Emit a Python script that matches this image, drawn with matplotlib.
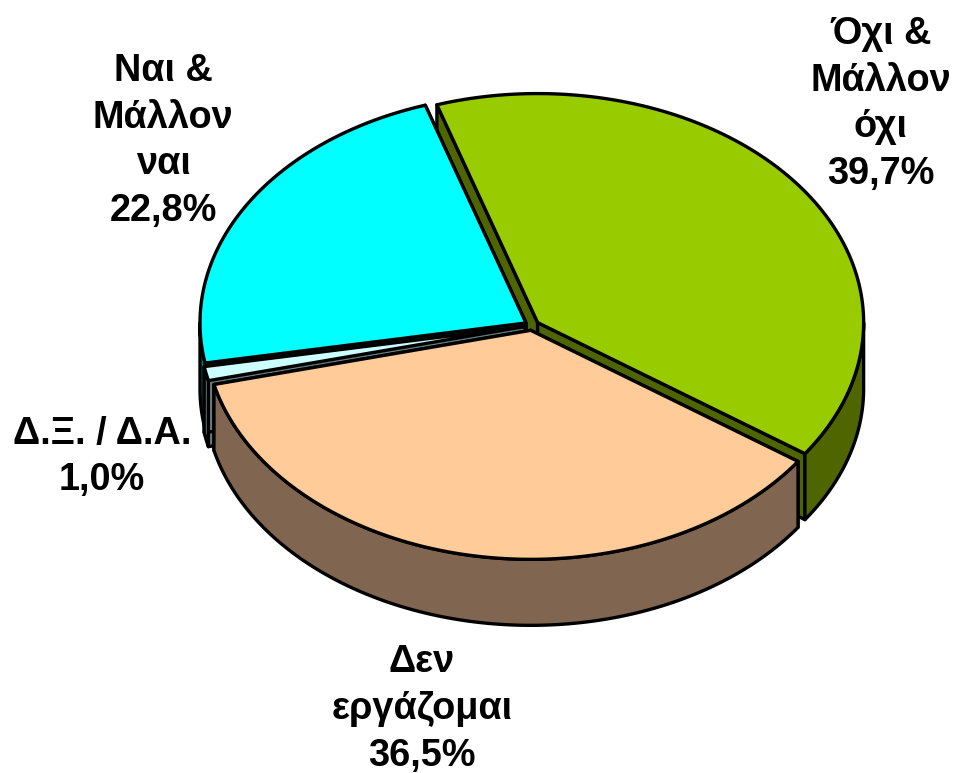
import numpy as np
import matplotlib
matplotlib.use("Agg")
import matplotlib.pyplot as plt
from matplotlib.patches import Polygon

plt.rcParams['font.family'] = ['Liberation Sans', 'DejaVu Sans']

categories = ["Όχι &\nΜάλλον\nόχι", "Δεν\nεργάζομαι", "Δ.Ξ. / Δ.Α.", "Ναι &\nΜάλλον\nναι"]
values = [39.7, 36.5, 1.0, 22.8]
value_labels = ["39,7%", "36,5%", "1,0%", "22,8%"]
top_colors = ["#99CC00", "#FFCC99", "#CCFFFF", "#00FFFF"]
wall_colors = ["#4F6600", "#806650", "#668080", "#008080"]
label_pos = [(881, 104), (422, 709), (102, 457), (163, 141)]
draw_order = [0, 3, 2, 1]

W, H = 956, 773
CX, CY, RX, RY = 532, 325.5, 326, 229
DEPTH, EXPLODE, START = 66, 7, -18.0
LW = 2.4

fig = plt.figure(figsize=(W / 100, H / 100), dpi=100)
ax = fig.add_axes([0, 0, 1, 1])
ax.set_xlim(0, W)
ax.set_ylim(H, 0)
ax.axis("off")

total = sum(values)
edges = START + np.concatenate([[0], np.cumsum(values)]) / total * 360


def pt(cx, cy, a):
    a = np.radians(a)
    return cx + RX * np.sin(a), cy - RY * np.cos(a)


def poly(xs, ys, color, z):
    ax.add_patch(Polygon(np.column_stack([xs, ys]), closed=True, facecolor=color,
                         edgecolor="black", linewidth=LW, joinstyle="round", zorder=z))


z = 1
for i in draw_order:
    a0, a1 = edges[i], edges[i + 1]
    mid = np.radians((a0 + a1) / 2)
    cx = CX + EXPLODE * np.sin(mid)
    cy = CY - EXPLODE * np.cos(mid) * RY / RX
    # radial cut faces
    for a in (a0, a1):
        x, y = pt(cx, cy, a)
        poly([cx, x, x, cx], [cy, y, y + DEPTH, cy + DEPTH], wall_colors[i], z)
        z += 1
    # outer rim, front half only
    lo, hi = max(a0, 90), min(a1, 270)
    if hi > lo:
        t = np.linspace(lo, hi, 200)
        x, y = pt(cx, cy, t)
        poly(np.r_[x, x[::-1]], np.r_[y, y[::-1] + DEPTH], wall_colors[i], z)
        z += 1
    # top face
    t = np.linspace(a0, a1, 300)
    x, y = pt(cx, cy, t)
    poly(np.r_[cx, x], np.r_[cy, y], top_colors[i], z)
    z += 1

for lab, vl, (lx, ly) in zip(categories, value_labels, label_pos):
    ax.text(lx, ly, f"{lab}\n{vl}", ha="center", va="center", fontsize=27.3, fontweight="bold",
            color="black", linespacing=1.38, zorder=100)

fig.savefig("out.png", dpi=100)
